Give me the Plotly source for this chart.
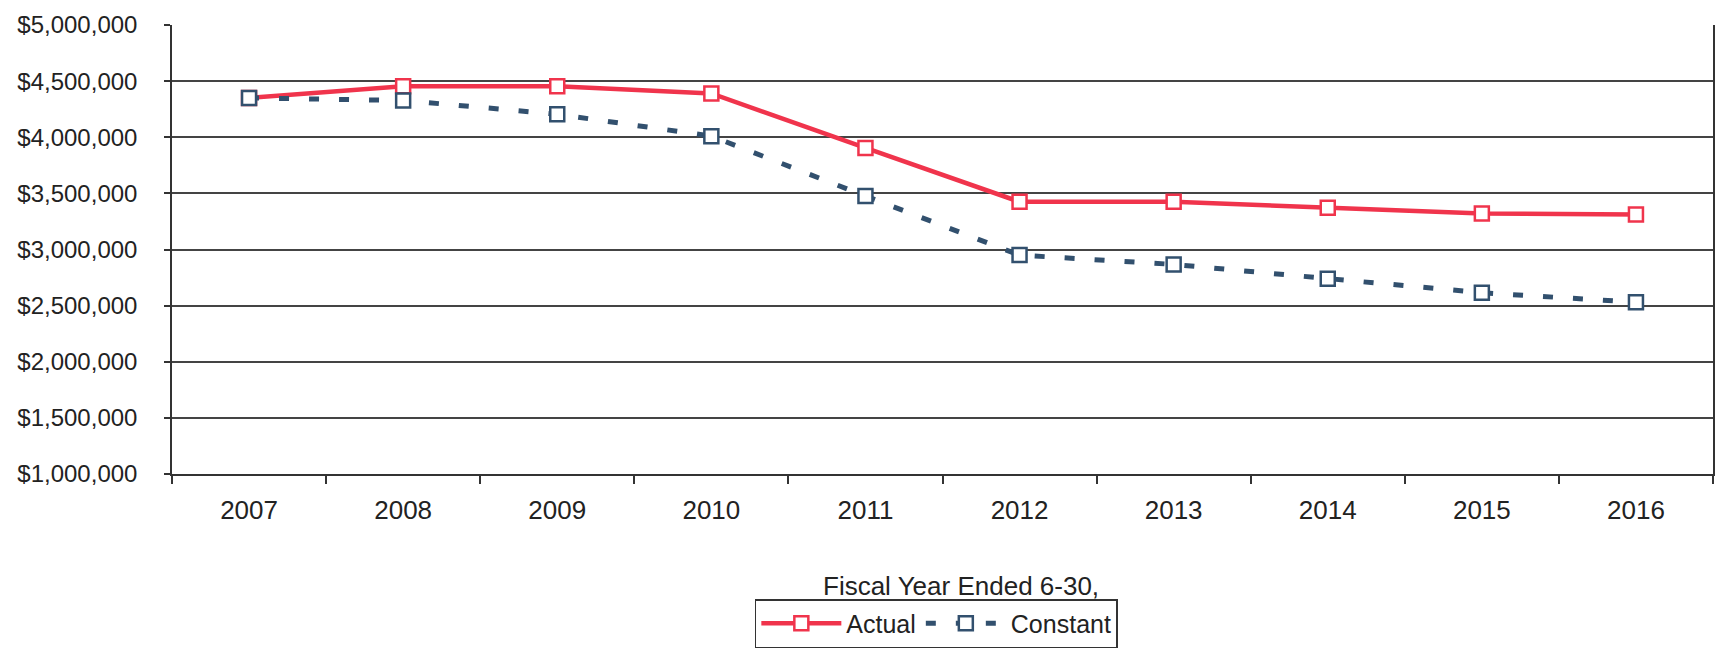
import plotly.graph_objects as go

# Fiscal years (ended June 30)
years = ["2007", "2008", "2009", "2010", "2011", "2012", "2013", "2014", "2015", "2016"]

# Dollars, actual and in constant terms
actual = [4350000, 4455000, 4455000, 4390000, 3905000, 3425000, 3425000, 3373000, 3320000, 3312000]
constant = [4350000, 4328000, 4205000, 4010000, 3476000, 2950000, 2867000, 2740000, 2615000, 2530000]

y_ticks = [1000000, 1500000, 2000000, 2500000, 3000000, 3500000, 4000000, 4500000, 5000000]
y_tick_text = ["${:,}".format(v) for v in y_ticks]

RED = "rgb(240,52,76)"
NAVY = "rgb(50,80,110)"
FONT = "Liberation Sans, Arial, sans-serif"

fig = go.Figure()

fig.add_trace(go.Scatter(
    x=years, y=actual, name="Actual", mode="lines+markers",
    line=dict(color=RED, width=4.5),
    marker=dict(symbol="square", size=14, color="white", line=dict(color=RED, width=2.5)),
))

fig.add_trace(go.Scatter(
    x=years, y=constant, name="Constant", mode="lines+markers",
    line=dict(color=NAVY, width=5, dash="10px,20px"),
    marker=dict(symbol="square", size=14, color="white", line=dict(color=NAVY, width=2.5)),
))

fig.update_layout(
    width=1722, height=655,
    margin=dict(l=172, r=7, t=25, b=180),
    paper_bgcolor="white", plot_bgcolor="white",
    font=dict(family=FONT, size=25, color="#222"),
    showlegend=True,
    legend=dict(
        orientation="h", x=0.496, y=-0.333, xanchor="center", yanchor="middle",
        bordercolor="#333", borderwidth=1.5, font=dict(size=25),
        itemwidth=80, tracegroupgap=0,
    ),
    annotations=[dict(
        text="Fiscal Year Ended 6-30,", x=0.512, y=-0.249, xref="paper", yref="paper",
        xanchor="center", yanchor="middle", showarrow=False, font=dict(size=26),
    )],
)

fig.update_xaxes(
    type="category", range=[-0.5, 9.5],
    showline=True, linecolor="#333", linewidth=1.5,
    ticks="outside", tickson="boundaries", ticklen=8, tickcolor="#333", tickwidth=1.5,
    ticklabelstandoff=12, showgrid=False, zeroline=False,
    tickfont=dict(size=26),
)

fig.update_yaxes(
    range=[1000000, 5000000], tickvals=y_ticks, ticktext=y_tick_text,
    showline=True, linecolor="#333", linewidth=1.5, mirror=True,
    ticks="outside", ticklen=6, tickcolor="#333", tickwidth=1.5,
    ticklabelstandoff=22,
    showgrid=True, gridcolor="#444", gridwidth=1.5, zeroline=False,
    tickfont=dict(size=24),
)

fig.write_html("out.html")
